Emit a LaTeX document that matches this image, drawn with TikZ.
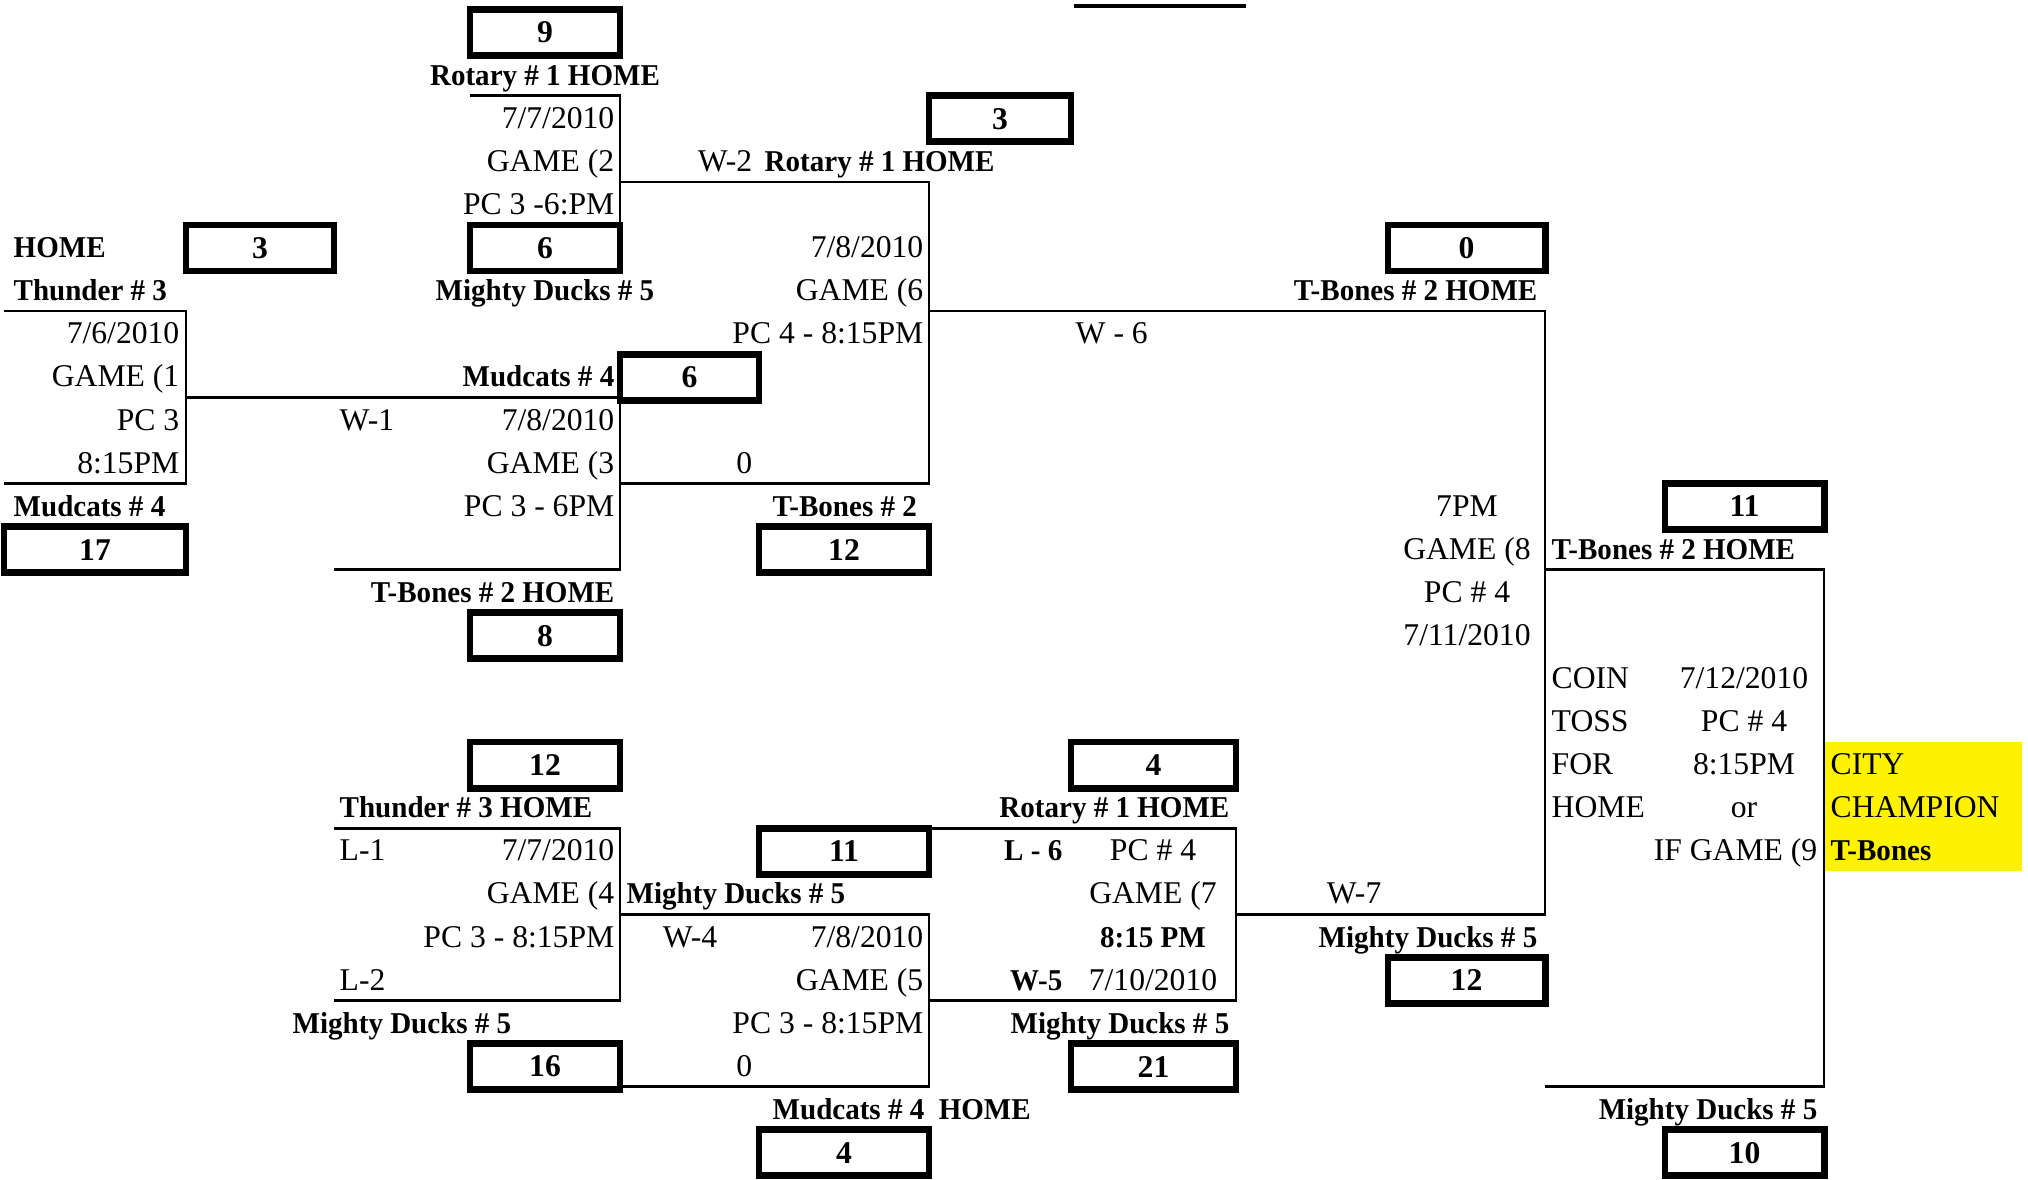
\documentclass[tikz,border=0pt]{standalone}
\usepackage{fontspec}
\setmainfont{Liberation Serif}
\newfontfamily\teamfont[FakeStretch=0.96]{Liberation Serif}
\tikzset{
    base/.style = {inner sep=0pt, font=\fontsize{9}{10}\selectfont},
    team/.style = {inner sep=0pt, font=\fontsize{8.6}{10}\teamfont\bfseries},
    score/.style = {
                        rectangle, draw=black, line width=1.95pt, inner sep=0pt,
                        minimum height=0.4606cm,
                        font=\fontsize{9}{10}\selectfont\bfseries
                    },
    bracket/.style = {line width=0.77pt},
    champ/.style = {fill=yellow}
}
\begin{document}
\begin{tikzpicture}[x=0.01cm, y=-0.4306cm]
    \useasboundingbox (0,-0.2206) rectangle (2028,27.1589);

    % highlighted winner cells
    \fill[champ] (1824,17) rectangle (2022,20);

    % brackets, game by game
    \draw[bracket] (470,2) -- (620,2) -- (620,5);
    \draw[bracket] (4,7) -- (186,7) -- (186,11) -- (4,11);
    \draw[bracket] (186,9) -- (620,9) -- (620,13) -- (334,13);
    \draw[bracket] (620,4) -- (929,4) -- (929,11) -- (620,11);
    \draw[bracket] (929,7) -- (1545,7) -- (1545,21) -- (1236,21);
    \draw[bracket] (1545,13) -- (1824,13) -- (1824,25) -- (1545,25);
    \draw[bracket] (334,19) -- (620,19) -- (620,23) -- (334,23);
    \draw[bracket] (620,21) -- (929,21) -- (929,25) -- (620,25);
    \draw[bracket] (929,19) -- (1236,19) -- (1236,23) -- (929,23);

    % cut-off row at the top
    \coordinate (cut_l) at (1074,-0.081);
    \coordinate (cut_r) at (1246,-0.081);
    \draw[line width=1.15pt] (cut_l) -- (cut_r);

    % score boxes
    \node (s_rotary_g2)   [score, minimum width=1.50cm] at (545,0.535)    {9};
    \node (s_rotary_g6)   [score, minimum width=1.42cm] at (1000,2.535)   {3};
    \node (s_thunder_g1)  [score, minimum width=1.48cm] at (260,5.535)    {3};
    \node (s_ducks_g2)    [score, minimum width=1.50cm] at (545,5.535)    {6};
    \node (s_tbones_g8)   [score, minimum width=1.57cm] at (1466.5,5.535) {0};
    \node (s_mudcats_g3)  [score, minimum width=1.39cm] at (689.5,8.535)  {6};
    \node (s_tbones_g9)   [score, minimum width=1.59cm] at (1744.5,11.535) {11};
    \node (s_mudcats_g1)  [score, minimum width=1.82cm] at (95,12.535)    {17};
    \node (s_tbones_g6)   [score, minimum width=1.70cm] at (844,12.535)   {12};
    \node (s_tbones_g3)   [score, minimum width=1.50cm] at (545,14.535)   {8};
    \node (s_thunder_g4)  [score, minimum width=1.50cm] at (545,17.535)   {12};
    \node (s_rotary_g7)   [score, minimum width=1.65cm] at (1153.5,17.535) {4};
    \node (s_ducks_g5)    [score, minimum width=1.70cm] at (844,19.535)   {11};
    \node (s_ducks_g8)    [score, minimum width=1.57cm] at (1466.5,22.535) {12};
    \node (s_ducks_g4)    [score, minimum width=1.50cm] at (545,24.535)   {16};
    \node (s_ducks_g7)    [score, minimum width=1.65cm] at (1153.5,24.535) {21};
    \node (s_mudcats_g5)  [score, minimum width=1.70cm] at (844,26.535)   {4};
    \node (s_ducks_g9)    [score, minimum width=1.59cm] at (1744.5,26.535) {10};

    % upper half
    \node (rotary_a)   [team, anchor=base]      at (545,1.76)  {Rotary \# 1 HOME};
    \node (g2_date)    [base, anchor=base east] at (615,2.76)  {7/7/2010};
    \node (g2_game)    [base, anchor=base east] at (615,3.76)  {GAME (2};
    \node (w2)         [base, anchor=base east] at (753,3.76)  {W-2};
    \node (rotary_b)   [team, anchor=base west] at (764,3.76)  {Rotary \# 1 HOME};
    \node (g2_place)   [base, anchor=base east] at (615,4.76)  {PC 3 -6:PM};
    \node (home_a)     [team, anchor=base west] at (13,5.76)   {HOME};
    \node (g6_date)    [base, anchor=base east] at (924,5.76)  {7/8/2010};
    \node (thunder_a)  [team, anchor=base west] at (13,6.76)   {Thunder \# 3};
    \node (ducks_a)    [team, anchor=base]      at (545,6.76)  {Mighty Ducks \# 5};
    \node (g6_game)    [base, anchor=base east] at (924,6.76)  {GAME (6};
    \node (tbones_a)   [team, anchor=base east] at (1538,6.76) {T-Bones \# 2 HOME};
    \node (g1_date)    [base, anchor=base east] at (180,7.76)  {7/6/2010};
    \node (g6_place)   [base, anchor=base east] at (924,7.76)  {PC 4 - 8:15PM};
    \node (w6)         [base, anchor=base west] at (1075,7.76) {W - 6};
    \node (g1_game)    [base, anchor=base east] at (180,8.76)  {GAME (1};
    \node (mudcats_a)  [team, anchor=base east] at (615,8.76)  {Mudcats \# 4};
    \node (g1_place)   [base, anchor=base east] at (180,9.76)  {PC 3};
    \node (w1)         [base, anchor=base west] at (339,9.76)  {W-1};
    \node (g3_date)    [base, anchor=base east] at (615,9.76)  {7/8/2010};
    \node (g1_time)    [base, anchor=base east] at (180,10.76) {8:15PM};
    \node (g3_game)    [base, anchor=base east] at (615,10.76) {GAME (3};
    \node (zero_a)     [base, anchor=base east] at (753,10.76) {0};
    \node (mudcats_b)  [team, anchor=base west] at (13,11.76)  {Mudcats \# 4};
    \node (g3_place)   [base, anchor=base east] at (615,11.76) {PC 3 - 6PM};
    \node (tbones_b)   [team, anchor=base west] at (772,11.76) {T-Bones \# 2};
    \node (g8_time)    [base, anchor=base]      at (1467,11.76) {7PM};
    \node (g8_game)    [base, anchor=base]      at (1467,12.76) {GAME (8};
    \node (tbones_c)   [team, anchor=base west] at (1551,12.76) {T-Bones \# 2 HOME};
    \node (tbones_d)   [team, anchor=base east] at (615,13.76) {T-Bones \# 2 HOME};
    \node (g8_place)   [base, anchor=base]      at (1467,13.76) {PC \# 4};
    \node (g8_date)    [base, anchor=base]      at (1467,14.76) {7/11/2010};

    % final
    \node (coin)       [base, anchor=base west] at (1551,15.76) {COIN};
    \node (g9_date)    [base, anchor=base]      at (1744,15.76) {7/12/2010};
    \node (toss)       [base, anchor=base west] at (1551,16.76) {TOSS};
    \node (g9_place)   [base, anchor=base]      at (1744,16.76) {PC \# 4};
    \node (for)        [base, anchor=base west] at (1551,17.76) {FOR};
    \node (g9_time)    [base, anchor=base]      at (1744,17.76) {8:15PM};
    \node (city)       [base, anchor=base west] at (1830,17.76) {CITY};
    \node (home_b)     [base, anchor=base west] at (1551,18.76) {HOME};
    \node (g9_or)      [base, anchor=base]      at (1744,18.76) {or};
    \node (champion)   [base, anchor=base west] at (1830,18.76) {CHAMPION};
    \node (g9_if)      [base, anchor=base east] at (1818,19.76) {IF GAME (9};
    \node (winner)     [team, anchor=base west] at (1830,19.76) {T-Bones};

    % lower half
    \node (thunder_b)  [team, anchor=base west] at (339,18.76)  {Thunder \# 3 HOME};
    \node (rotary_c)   [team, anchor=base east] at (1230,18.76) {Rotary \# 1 HOME};
    \node (l1)         [base, anchor=base west] at (339,19.76)  {L-1};
    \node (g4_date)    [base, anchor=base east] at (615,19.76)  {7/7/2010};
    \node (l6)         [team, anchor=base east] at (1063,19.76) {L - 6};
    \node (g7_place)   [base, anchor=base]      at (1153,19.76) {PC \# 4};
    \node (g4_game)    [base, anchor=base east] at (615,20.76)  {GAME (4};
    \node (ducks_b)    [team, anchor=base west] at (626,20.76)  {Mighty Ducks \# 5};
    \node (g7_game)    [base, anchor=base]      at (1153,20.76) {GAME (7};
    \node (w7)         [base, anchor=base east] at (1382,20.76) {W-7};
    \node (g4_place)   [base, anchor=base east] at (615,21.76)  {PC 3 - 8:15PM};
    \node (w4)         [base, anchor=base]      at (690,21.76)  {W-4};
    \node (g5_date)    [base, anchor=base east] at (924,21.76)  {7/8/2010};
    \node (g7_time)    [team, anchor=base]      at (1153,21.76) {8:15 PM};
    \node (ducks_c)    [team, anchor=base east] at (1538,21.76) {Mighty Ducks \# 5};
    \node (l2)         [base, anchor=base west] at (339,22.76)  {L-2};
    \node (g5_game)    [base, anchor=base east] at (924,22.76)  {GAME (5};
    \node (w5)         [team, anchor=base east] at (1063,22.76) {W-5};
    \node (g7_date)    [base, anchor=base]      at (1153,22.76) {7/10/2010};
    \node (ducks_d)    [team, anchor=base]      at (402,23.76)  {Mighty Ducks \# 5};
    \node (g5_place)   [base, anchor=base east] at (924,23.76)  {PC 3 - 8:15PM};
    \node (ducks_e)    [team, anchor=base east] at (1230,23.76) {Mighty Ducks \# 5};
    \node (zero_b)     [base, anchor=base east] at (753,24.76)  {0};
    \node (mudcats_c)  [team, anchor=base west] at (772,25.76)  {Mudcats \# 4~~HOME};
    \node (ducks_f)    [team, anchor=base east] at (1818,25.76) {Mighty Ducks \# 5};
\end{tikzpicture}
\end{document}
